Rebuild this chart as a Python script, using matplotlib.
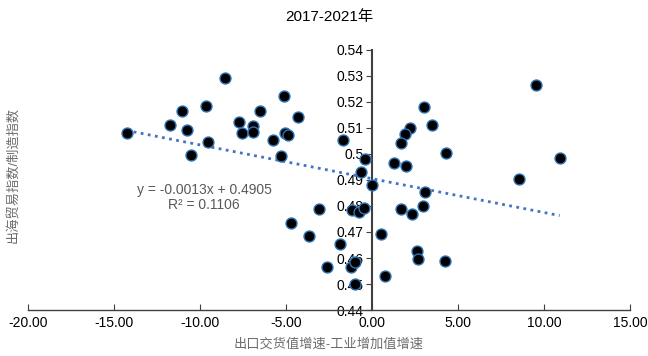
import numpy as np
import matplotlib
matplotlib.use("Agg")
import matplotlib.pyplot as plt
from matplotlib.ticker import FuncFormatter

plt.rcParams["font.family"] = ["Liberation Sans", "Noto Sans CJK SC", "DejaVu Sans"]

# growth gap (export delivery value growth - industrial value added growth)
gap = [-14.27, -11.76, -11.03, -10.74, -10.52, -9.65, -9.55, -8.56, -7.71, -7.54,
       -6.94, -6.94, -6.51, -5.76, -5.31, -5.10, -5.04, -4.88, -4.32, -1.70,
       -0.42, -0.62, 0.00,
       -3.08, -4.73, -3.64, -1.16, -0.74, -0.47, 1.69, 2.31, 2.98, 0.50,
       -1.84, 2.64, 2.67, 4.22, -2.62, -1.24, -0.97, 0.77, -0.99,
       9.52, 3.00, 3.51, 2.19, 1.90, 1.70, 4.32, 1.30, 2.00, 10.91, 8.53, 3.08]
# outbound trade index / manufacturing index
ratio = [0.5082, 0.5110, 0.5165, 0.5092, 0.4995, 0.5186, 0.5046, 0.5293, 0.5123, 0.5081,
         0.5108, 0.5085, 0.5165, 0.5055, 0.4993, 0.5222, 0.5081, 0.5072, 0.5141, 0.5055,
         0.4979, 0.4930, 0.4880,
         0.4790, 0.4733, 0.4686, 0.4783, 0.4778, 0.4793, 0.4790, 0.4771, 0.4799, 0.4693,
         0.4652, 0.4628, 0.4598, 0.4588, 0.4566, 0.4567, 0.4585, 0.4530, 0.4500,
         0.5266, 0.5180, 0.5112, 0.5099, 0.5077, 0.5044, 0.5005, 0.4966, 0.4955, 0.4986,
         0.4903, 0.4854]

slope, intercept, r2 = -0.0013, 0.4905, 0.1106

fig = plt.figure(figsize=(6.48, 3.56), dpi=100)
ax = fig.add_axes([0.0432, 0.1292, 0.9290, 0.7304])

ax.scatter(gap, ratio, s=62, c="black", edgecolors="#2e75b6", linewidths=1.0, zorder=3)

xs = np.array([min(gap), max(gap)])
ax.plot(xs, slope * xs + intercept, color="#4472c4", lw=2.0, ls=(0, (1, 1.6)), zorder=2)

ax.text(-9.77, 0.4834, f"y = {slope:.4f}x + {intercept:.4f}\nR² = {r2:.4f}",
        ha="center", va="center", fontsize=10, color="#595959", linespacing=1.1)

ax.set_xlim(-20, 15)
ax.set_ylim(0.44, 0.54)
ax.set_xticks(np.arange(-20, 15.1, 5))
ax.set_yticks(np.arange(0.44, 0.5401, 0.01))
ax.xaxis.set_major_formatter(FuncFormatter(lambda v, p: f"{v:.2f}"))
ax.yaxis.set_major_formatter(FuncFormatter(lambda v, p: f"{v:.2f}".rstrip("0")))

for s in ("top", "right"):
    ax.spines[s].set_visible(False)
ax.spines["left"].set_position(("data", 0))
ax.spines["left"].set_color("#404040")
ax.spines["left"].set_linewidth(1.5)
ax.spines["bottom"].set_color("#404040")
ax.spines["bottom"].set_linewidth(1.0)
ax.tick_params(axis="y", direction="out", length=4, color="#404040", labelsize=10, pad=2)
ax.tick_params(axis="x", direction="in", length=4, color="#404040", labelsize=10, pad=4)

ax.set_title("2017-2021年", fontsize=11, pad=21)
ax.set_xlabel("出口交货值增速-工业增加值增速", fontsize=9.5, color="#6b6b6b", labelpad=6)
fig.text(0.02, 0.51, "出海贸易指数/制造指数", rotation=90, fontsize=9.5,
         color="#6b6b6b", ha="center", va="center")

fig.savefig("out.png", dpi=100)
